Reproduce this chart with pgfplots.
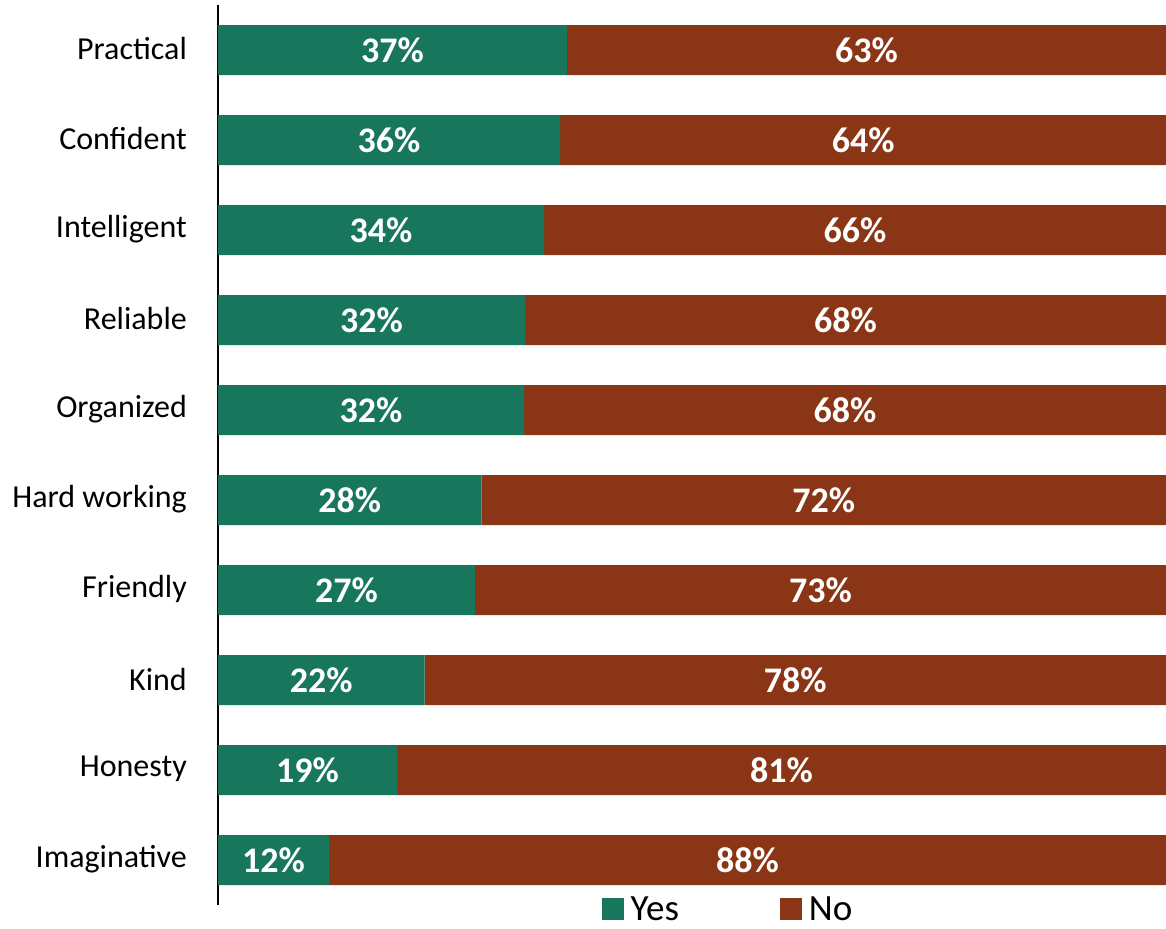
\documentclass[border=0pt]{standalone}
\usepackage{pgfplots}
\pgfplotsset{compat=1.18}
\usepackage{fontspec}
\setmainfont{Carlito}
\usetikzlibrary{calc}
\definecolor{yesc}{HTML}{18765C}
\definecolor{noc}{HTML}{8A3616}
\begin{document}
\begin{tikzpicture}
\begin{axis}[
  name=ax,
  width=948pt, height=900pt, scale only axis,
  xbar stacked, bar width=50pt,
  xmin=0, xmax=100, ymin=-0.5, ymax=9.5, y dir=reverse,
  hide x axis,
  axis y line*=left,
  y axis line style={line width=1.6pt, black},
  ytick={0,...,9},
  yticklabels={Practical,Confident,Intelligent,Reliable,Organized,Hard working,Friendly,Kind,Honesty,Imaginative},
  major tick length=0pt,
  ytick style={draw=none},
  yticklabel style={font=\fontsize{32}{36}\selectfont, inner sep=0pt, xshift=-31pt, yshift=1pt},
  /pgf/number format/assume math mode=true,
  visualization depends on={rawx \as \rawx},
  nodes near coords={\pgfmathprintnumber[fixed,precision=0,assume math mode=true]{\rawx}\%},
  every node near coord/.append style={anchor=center, text=white, font=\fontsize{36}{40}\selectfont\bfseries, inner sep=0pt},
  legend columns=2,
  legend style={at={(0.5375,0)}, anchor=center, yshift=-4pt, draw=none, fill=none, inner sep=0pt, font=\fontsize{37}{40}\selectfont,
    nodes={inner sep=1pt},
    /tikz/every odd column/.append style={column sep=6pt},
    /tikz/every even column/.append style={column sep=100pt}},
  legend image code/.code={\fill[#1,draw=none] (0pt,-11pt) rectangle (22pt,11pt);},
]
\addplot[fill=yesc, draw=none] coordinates {(36.8,0) (36.1,1) (34.4,2) (32.4,3) (32.3,4) (27.8,5) (27.1,6) (21.8,7) (18.9,8) (11.7,9)};
\addplot[fill=noc, draw=none] coordinates {(63.2,0) (63.9,1) (65.6,2) (67.6,3) (67.7,4) (72.2,5) (72.9,6) (78.2,7) (81.1,8) (88.3,9)};
\legend{Yes,No}
\end{axis}
\pgfresetboundingbox
\path ($(ax.south west)+(-218pt,-23pt)$) rectangle ($(ax.north east)+(0pt,5pt)$);
\end{tikzpicture}
\end{document}
